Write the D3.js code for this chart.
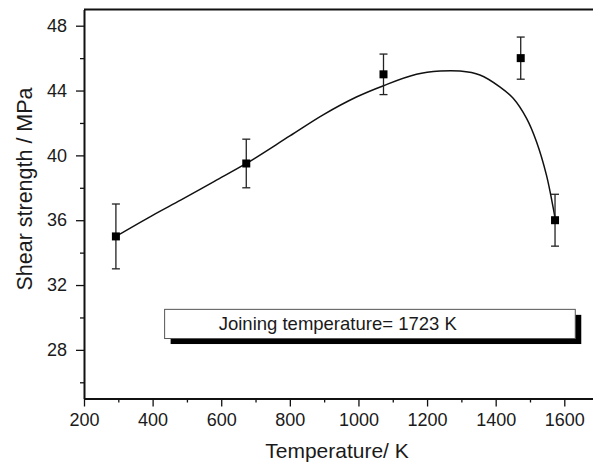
<!DOCTYPE html>
<html>
<head>
<meta charset="utf-8">
<script src="https://cdn.jsdelivr.net/npm/d3@7"></script>
<style>
  html, body { margin: 0; padding: 0; background: #fff; }
  svg { display: block; font-family: "Liberation Sans", Arial, sans-serif; }
  .axis path, .axis line { stroke: #111; }
  .axis text { fill: #1a1a1a; font-size: 18px; }
</style>
</head>
<body>
<svg id="chart" width="593" height="462"></svg>
<script>
// Messpunkte (Temperatur in K, Scherfestigkeit in MPa, Fehler +/-)
const temperatures = [293, 673, 1073, 1473, 1573];
const strengths    = [35.0, 39.5, 45.0, 46.0, 36.0];
const errors       = [2.0, 1.5, 1.25, 1.3, 1.6];

// Fit-Kurve
const fitT = [293, 400, 483, 580, 673, 800, 897, 994, 1073, 1169, 1238, 1296, 1354, 1412, 1451, 1490, 1519, 1548, 1568, 1574];
const fitV = [35.0, 36.3, 37.25, 38.4, 39.5, 41.2, 42.5, 43.6, 44.3, 45.0, 45.2, 45.2, 44.96, 44.23, 43.52, 42.28, 40.84, 38.78, 36.73, 36.0];

// Achsen
const xTicks = [200, 400, 600, 800, 1000, 1200, 1400, 1600];
const xMinor = [300, 500, 700, 900, 1100, 1300, 1500, 1700];
const yTicks = [28, 32, 36, 40, 44, 48];
const yMinor = [26, 30, 34, 38, 42, 46];

// Beschriftungsbox (in Datenkoordinaten)
const noteText = 'Joining temperature= 1723 K';
const noteBox = { t0: 435, t1: 1632, v0: 28.7, v1: 30.5 };

const svg = d3.select('#chart');

const x = d3.scaleLinear().domain([200, 1700]).range([84, 598.6]);
const y = d3.scaleLinear().domain([25, 49]).range([398.5, 9.5]);

// Rahmen (oben)
svg.append('line')
    .attr('x1', x(200)).attr('x2', x(1700))
    .attr('y1', y(49)).attr('y2', y(49))
    .attr('stroke', '#111').attr('stroke-width', 2.2);

// X-Achse
const xAxis = svg.append('g')
    .attr('class', 'axis')
    .attr('transform', `translate(0,${y(25)})`)
    .call(d3.axisBottom(x).tickValues(xTicks).tickFormat(d3.format('d'))
        .tickSize(8).tickPadding(7).tickSizeOuter(0));
xAxis.select('.domain').attr('stroke-width', 2);
xAxis.selectAll('.tick line').attr('stroke-width', 1.3);

svg.append('g')
    .attr('class', 'axis')
    .attr('transform', `translate(0,${y(25)})`)
    .call(d3.axisBottom(x).tickValues(xMinor).tickSize(4).tickFormat('').tickSizeOuter(0))
    .call(g => g.select('.domain').remove())
    .selectAll('.tick line').attr('stroke-width', 1.3);

// Y-Achse
const yAxis = svg.append('g')
    .attr('class', 'axis')
    .attr('transform', `translate(${x(200)},0)`)
    .call(d3.axisLeft(y).tickValues(yTicks).tickSize(8).tickPadding(9).tickSizeOuter(0));
yAxis.select('.domain').attr('stroke-width', 2);
yAxis.selectAll('.tick line').attr('stroke-width', 1.3);

svg.append('g')
    .attr('class', 'axis')
    .attr('transform', `translate(${x(200)},0)`)
    .call(d3.axisLeft(y).tickValues(yMinor).tickSize(4).tickFormat('').tickSizeOuter(0))
    .call(g => g.select('.domain').remove())
    .selectAll('.tick line').attr('stroke-width', 1.3);

// Achsentitel
svg.append('text')
    .attr('x', 337)
    .attr('y', 458)
    .attr('text-anchor', 'middle')
    .style('font-size', '21px')
    .style('fill', '#1a1a1a')
    .text('Temperature/ K');

svg.append('text')
    .attr('transform', `translate(32,${189}) rotate(-90)`)
    .attr('text-anchor', 'middle')
    .style('font-size', '21.5px')
    .style('fill', '#1a1a1a')
    .text('Shear strength / MPa');

// Fit-Kurve
const fitData = fitT.map((t, i) => ({ t, v: fitV[i] }));
svg.append('path')
    .datum(fitData)
    .attr('fill', 'none')
    .attr('stroke', '#111')
    .attr('stroke-width', 1.5)
    .attr('d', d3.line().x(d => x(d.t)).y(d => y(d.v)).curve(d3.curveCatmullRom.alpha(0.5)));

// Fehlerbalken
const pts = temperatures.map((t, i) => ({ t, v: strengths[i], e: errors[i] }));
const eb = svg.append('g').attr('stroke', '#222').attr('stroke-width', 1.3);
eb.selectAll('.eb-v').data(pts).enter().append('line')
    .attr('x1', d => x(d.t)).attr('x2', d => x(d.t))
    .attr('y1', d => y(d.v + d.e)).attr('y2', d => y(d.v - d.e));
eb.selectAll('.eb-top').data(pts).enter().append('line')
    .attr('x1', d => x(d.t) - 4).attr('x2', d => x(d.t) + 4)
    .attr('y1', d => y(d.v + d.e)).attr('y2', d => y(d.v + d.e));
eb.selectAll('.eb-bot').data(pts).enter().append('line')
    .attr('x1', d => x(d.t) - 4).attr('x2', d => x(d.t) + 4)
    .attr('y1', d => y(d.v - d.e)).attr('y2', d => y(d.v - d.e));

// Marker
svg.selectAll('.pt').data(pts).enter().append('rect')
    .attr('x', d => x(d.t) - 4)
    .attr('y', d => y(d.v) - 4)
    .attr('width', 8)
    .attr('height', 8)
    .attr('fill', '#000');

// Beschriftungsbox mit Schatten
const bx = x(noteBox.t0), bw = x(noteBox.t1) - x(noteBox.t0);
const by = y(noteBox.v1), bh = y(noteBox.v0) - y(noteBox.v1);
svg.append('rect')
    .attr('x', bx + 6).attr('y', by + 5.5)
    .attr('width', bw).attr('height', bh)
    .attr('fill', '#000');
svg.append('rect')
    .attr('x', bx).attr('y', by)
    .attr('width', bw).attr('height', bh)
    .attr('fill', '#fff')
    .attr('stroke', '#555')
    .attr('stroke-width', 1);
svg.append('text')
    .attr('x', 218.7)
    .attr('y', by + bh / 2 + 6.5)
    .style('font-size', '18.5px')
    .style('fill', '#1a1a1a')
    .text(noteText);
</script>
</body>
</html>
